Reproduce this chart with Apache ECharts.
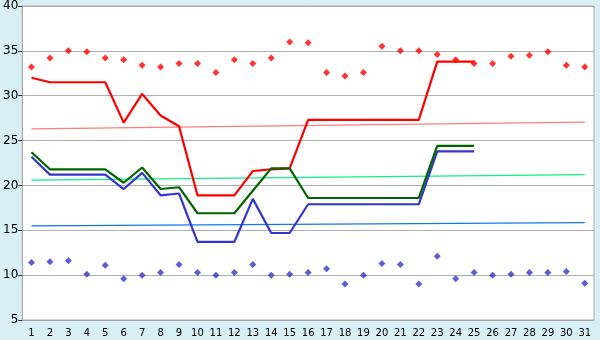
<!DOCTYPE html>
<html>
<head>
<meta charset="utf-8">
<script src="https://cdn.jsdelivr.net/npm/echarts@6/dist/echarts.min.js"></script>
<style>
  html, body { margin: 0; padding: 0; background: #d9eff6; }
  #main { width: 600px; height: 340px; }
</style>
</head>
<body>
<div id="main"></div>
<script>
// days of month
var days = [];
for (var d = 1; d <= 31; d++) days.push(String(d));

// daily max / min readings (diamonds)
var maxPoints = [33.2, 34.2, 35.0, 34.9, 34.2, 34.0, 33.4, 33.2, 33.6, 33.6, 32.6, 34.0, 33.6, 34.2, 36.0, 35.9,
                 32.6, 32.2, 32.6, 35.5, 35.0, 35.0, 34.6, 34.0, 33.6, 33.6, 34.4, 34.5, 34.9, 33.4, 33.2];
var minPoints = [11.4, 11.5, 11.6, 10.1, 11.1, 9.6, 10.0, 10.3, 11.2, 10.3, 10.0, 10.3, 11.2, 10.0, 10.1, 10.3,
                 10.7, 9.0, 10.0, 11.3, 11.2, 9.0, 12.1, 9.6, 10.3, 10.0, 10.1, 10.3, 10.3, 10.4, 9.1];

// thick lines (stop at day 25)
var redLine   = [32.0, 31.5, 31.5, 31.5, 31.5, 27.0, 30.2, 27.8, 26.6, 18.9, 18.9, 18.9, 21.6, 21.8, 21.9, 27.3,
                 27.3, 27.3, 27.3, 27.3, 27.3, 27.3, 33.8, 33.8, 33.8];
var greenLine = [23.7, 21.8, 21.8, 21.8, 21.8, 20.3, 22.0, 19.6, 19.8, 16.9, 16.9, 16.9, 19.4, 21.9, 21.9, 18.6,
                 18.6, 18.6, 18.6, 18.6, 18.6, 18.6, 24.4, 24.4, 24.4];
var blueLine  = [23.2, 21.2, 21.2, 21.2, 21.2, 19.6, 21.4, 18.9, 19.1, 13.7, 13.7, 13.7, 18.5, 14.7, 14.7, 17.9,
                 17.9, 17.9, 17.9, 17.9, 17.9, 17.9, 23.8, 23.8, 23.8];

// thin trend lines: value at day 1 and day 31
var redTrend   = [26.3, 27.05];
var greenTrend = [20.6, 21.2];
var blueTrend  = [15.5, 15.85];

var yTicks = [5, 10, 15, 20, 25, 30, 35, 40];

function trend(v) {
  return [[0, v[0]], [days.length - 1, v[1]]];
}

var chart = echarts.init(document.getElementById('main'));
chart.setOption({
  backgroundColor: '#d9eff6',
  animation: false,
  grid: {
    left: 20, right: 6, top: 5, bottom: 20,
    show: true, backgroundColor: '#fff', borderColor: '#aaa', borderWidth: 1
  },
  xAxis: {
    type: 'category',
    data: days,
    boundaryGap: true,
    axisLine: { lineStyle: { color: '#aaa' } },
    axisTick: { alignWithLabel: true, length: 5, lineStyle: { color: '#333' } },
    axisLabel: { interval: 0, color: '#000', fontSize: 10, fontFamily: 'DejaVu Sans', margin: 8 },
    splitLine: { show: false }
  },
  yAxis: {
    type: 'value',
    min: yTicks[0], max: yTicks[yTicks.length - 1], interval: 5,
    axisLine: { show: true, lineStyle: { color: '#aaa' } },
    axisTick: { show: true, length: 4, lineStyle: { color: '#333' } },
    axisLabel: { color: '#000', fontSize: 12, fontFamily: 'DejaVu Sans', margin: 4 },
    splitLine: { lineStyle: { color: '#b0b0b0' } }
  },
  series: [
    { type: 'line', data: trend(redTrend), symbol: 'none', lineStyle: { color: '#ff7c7c', width: 1.2 } },
    { type: 'line', data: trend(greenTrend), symbol: 'none', lineStyle: { color: '#10f088', width: 1.2 } },
    { type: 'line', data: trend(blueTrend), symbol: 'none', lineStyle: { color: '#1478e8', width: 1.2 } },
    { type: 'line', data: redLine, symbol: 'none', lineStyle: { color: '#ff0000', width: 2.2 } },
    { type: 'line', data: blueLine, symbol: 'none', lineStyle: { color: '#3535cc', width: 2.2 } },
    { type: 'line', data: greenLine, symbol: 'none', lineStyle: { color: '#006400', width: 2.2 } },
    { type: 'scatter', data: maxPoints, symbol: 'diamond', symbolSize: 7, itemStyle: { color: '#ff0000' } },
    { type: 'scatter', data: minPoints, symbol: 'diamond', symbolSize: 7, itemStyle: { color: '#3535cc' } }
  ]
});
</script>
</body>
</html>
